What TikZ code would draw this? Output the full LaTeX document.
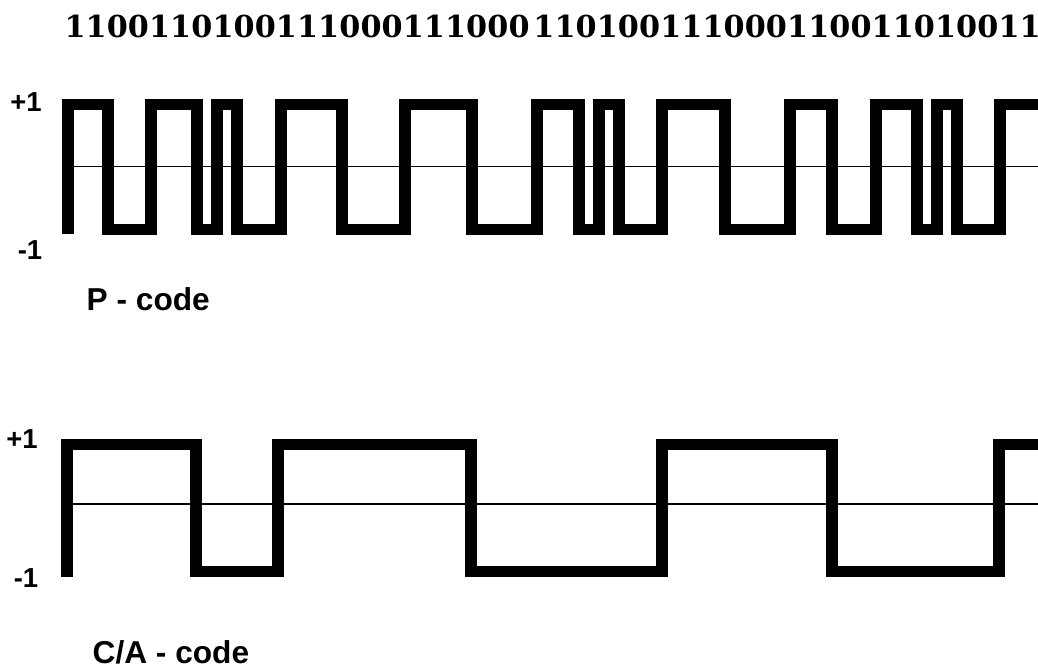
\documentclass[tikz,border=0pt]{standalone}
\usepackage{fontspec}
\setmainfont{Liberation Serif}
\newfontfamily\labfont{Liberation Sans}
\newfontfamily\bitfont[LetterSpace=0.3]{DejaVu Serif}
\begin{document}
\begin{tikzpicture}[x=0.01cm,y=-0.01cm,
  wave/.style={line width=0.11cm, line join=miter, line cap=butt},
  axisline/.style={line width=0.5pt},
  lvl/.style={font=\labfont\bfseries\fontsize{7.8}{9}\selectfont, inner sep=0pt},
  codelab/.style={font=\labfont\bfseries\fontsize{9}{10}\selectfont, inner sep=0pt, anchor=base west},
  bits/.style={font=\bitfont\bfseries\fontsize{8.6}{10}\selectfont, inner sep=0pt, anchor=base}]
\useasboundingbox (0,0) rectangle (1038,666);
\fill[white] (0,0) rectangle (1038,666);

% bit string
\node[bits] (bitsA) at (297,37) {1100110100111000111000};
\node[bits] (bitsB) at (787,37) {110100111000110011010011};

% P-code
\draw[axisline] (68,166.5) -- (1038,166.5);
\draw[wave] (68,234) |- (108,104) |- (151,229) |- (197,104) |- (217,229) |- (237,104)
  |- (281,229) |- (342,104) |- (405,229) |- (472,104) |- (537,229) |- (579,104)
  |- (599,229) |- (619,104) |- (662,229) |- (725,104) |- (790,229) |- (832,104)
  |- (876,229) |- (917,104) |- (937,229) |- (957,104) |- (1000,229) |- (1045,104);
\node[lvl] (pplus) at (26,102) {+1};
\node[lvl] (pminus) at (30,250) {-1};
\node[codelab] (plab) at (86,310) {P - code};

% C/A-code
\draw[axisline] (68,504) -- (1038,504);
\draw[wave] (67,577) |- (196,444) |- (278,571) |- (471,444) |- (662,571) |- (832,444)
  |- (999,571) |- (1045,444);
\node[lvl] (cplus) at (22,439) {+1};
\node[lvl] (cminus) at (26,578) {-1};
\node[codelab] (clab) at (92,663) {C/A - code};
\end{tikzpicture}
\end{document}
